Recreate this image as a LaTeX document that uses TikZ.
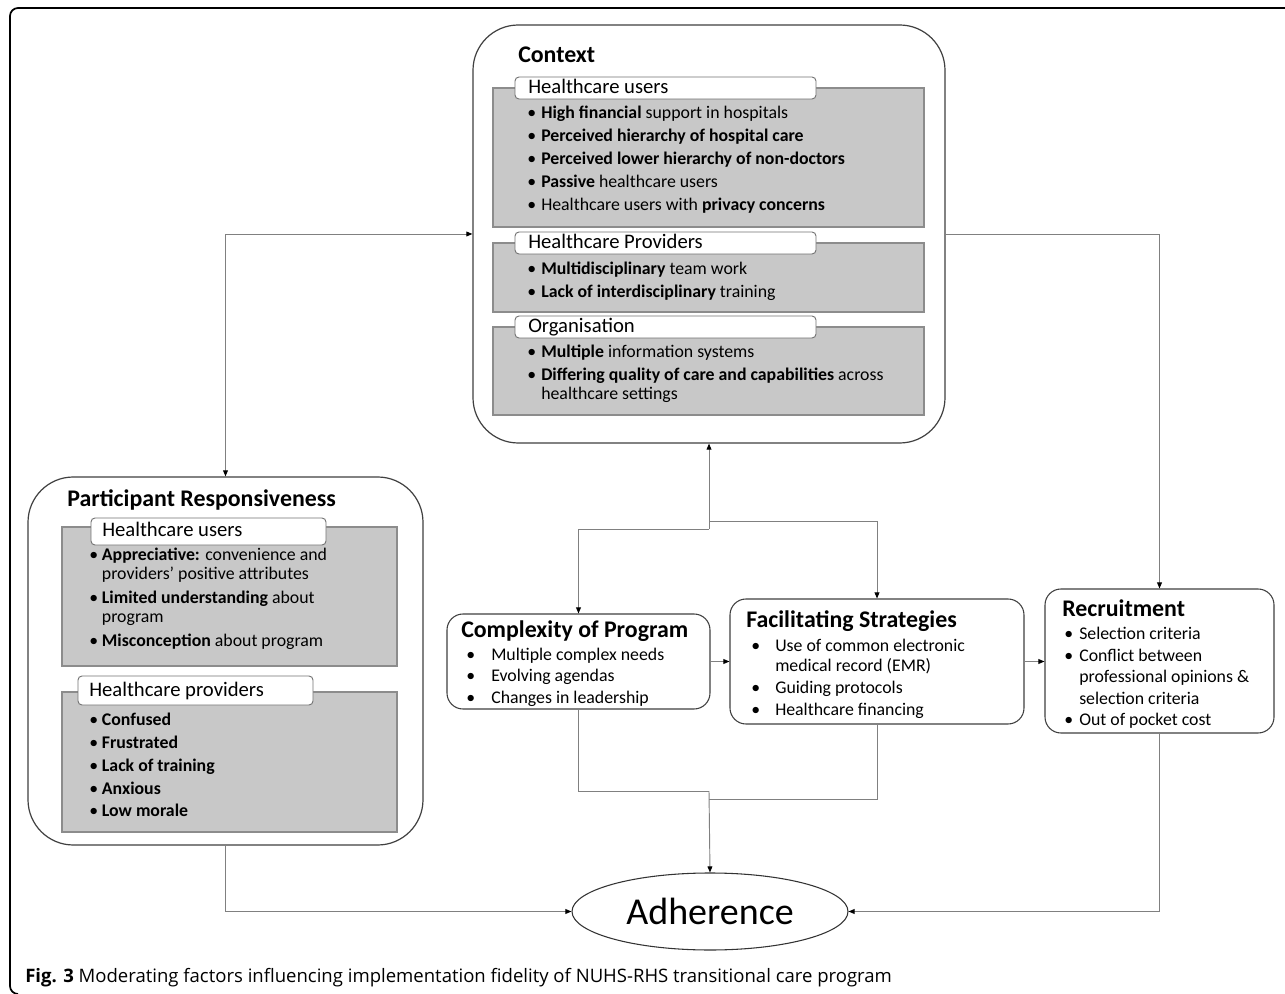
\documentclass[tikz,border=0pt]{standalone}
\usepackage{fontspec}
\setmainfont{Carlito}
\newfontfamily\capfont{Open Sans}
\usetikzlibrary{shapes.geometric,fit,arrows.meta}
\newdimen\px \px=0.75pt
\definecolor{boxgray}{HTML}{C8C8C8}
\newcommand\bitem[2]{\makebox[#1][l]{\textbullet}#2}
\begin{document}
\begin{tikzpicture}[x=0.75pt,y=-0.75pt,
  outer/.style={draw=black!75, line width=0.9pt, rounded corners=34pt, inner sep=0pt},
  smallbox/.style={draw=black!75, line width=0.8pt, rounded corners=12pt, inner sep=0pt},
  graybox/.style={draw=black!45, fill=boxgray, line width=0.8pt, inner sep=0pt},
  lbl/.style={draw=black!55, fill=white, line width=0.7pt, rounded corners=3pt, inner sep=0pt},
  conn/.style={draw=black!50, line width=0.7pt},
  >={Triangle[length=4.5pt,width=3.6pt,color=black]},
  ttl/.style={anchor=base west, inner sep=0pt, font=\fontsize{17.9}{20}\selectfont\bfseries},
  lab/.style={anchor=base west, inner sep=0pt, font=\fontsize{15.5}{18}\selectfont},
  bt/.style={anchor=base west, inner sep=0pt, font=\fontsize{13.35}{16}\selectfont}]
\useasboundingbox (0,0) rectangle (1285,994);
\fill[white] (0,0) rectangle (1285,994);
% frame
\draw[black, line width=1.3pt, rounded corners=8\px] (1290,8) -- (10,8) -- (10,994) -- (16,994);

% ---------- Context ----------
\node[outer, fit={(473,25) (945,443)}] (ctx) {};
\node[ttl] (ctxt) at (518,63) {Context};
\node[graybox, fit={(493,88) (924,227)}] (g1) {};
\node[lbl, fit={(515,77) (816,99)}] (l1) {};
\node[lab] (l1t) at (528,94) {Healthcare users};
\node[bt] (cu1) at (527,119) {\bitem{10.5pt}{\textbf{High financial} support in hospitals}};
\node[bt] (cu2) at (527,142) {\bitem{10.5pt}{\textbf{Perceived hierarchy of hospital care}}};
\node[bt] (cu3) at (527,165) {\bitem{10.5pt}{\textbf{Perceived lower hierarchy of non-doctors}}};
\node[bt] (cu4) at (527,188) {\bitem{10.5pt}{\textbf{Passive} healthcare users}};
\node[bt] (cu5) at (527,211) {\bitem{10.5pt}{Healthcare users with \textbf{privacy concerns}}};

\node[graybox, fit={(493,243) (924,312)}] (g2) {};
\node[lbl, fit={(515,232) (816,254)}] (l2) {};
\node[lab] (l2t) at (528,248.5) {Healthcare Providers};
\node[bt] (cp1) at (527,275) {\bitem{10.5pt}{\textbf{Multidisciplinary} team work}};
\node[bt] (cp2) at (527,297.5) {\bitem{10.5pt}{\textbf{Lack of interdisciplinary} training}};

\node[graybox, fit={(493,327) (924,415)}] (g3) {};
\node[lbl, fit={(515,316) (816,338)}] (l3) {};
\node[lab] (l3t) at (528,332.5) {Organisation};
\node[bt] (co1) at (527,358) {\bitem{10.5pt}{\textbf{Multiple} information systems}};
\node[bt] (co2) at (527,381) {\bitem{10.5pt}{\textbf{Differing quality of care and capabilities} across}};
\node[bt] (co3) at (541,400) {healthcare settings};

% ---------- Participant Responsiveness ----------
\node[outer, fit={(28,477) (423,845)}] (pr) {};
\node[ttl] (prt) at (67,506.5) {Participant Responsiveness};
\node[graybox, fit={(62,527) (397,666)}] (g4) {};
\node[lbl, fit={(91,518) (326,545)}] (l4) {};
\node[lab] (l4t) at (102,537) {Healthcare users};
\node[bt] (pu1) at (89,560.5) {\bitem{9.5pt}{\textbf{Appreciative:} convenience and}};
\node[bt] (pu2) at (101.7,580) {providers' positive attributes};
\node[bt] (pu3) at (89,603) {\bitem{9.5pt}{\textbf{Limited understanding} about}};
\node[bt] (pu4) at (101.7,622.5) {program};
\node[bt] (pu5) at (89,646) {\bitem{9.5pt}{\textbf{Misconception} about program}};

\node[graybox, fit={(62,692) (397,832)}] (g5) {};
\node[lbl, fit={(78,676) (313,705)}] (l5) {};
\node[lab] (l5t) at (89,696) {Healthcare providers};
\node[bt] (pp1) at (89,725) {\bitem{9.5pt}{\textbf{Confused}}};
\node[bt] (pp2) at (89,748) {\bitem{9.5pt}{\textbf{Frustrated}}};
\node[bt] (pp3) at (89,771) {\bitem{9.5pt}{\textbf{Lack of training}}};
\node[bt] (pp4) at (89,794) {\bitem{9.5pt}{\textbf{Anxious}}};
\node[bt] (pp5) at (89,816.5) {\bitem{9.5pt}{\textbf{Low morale}}};

% ---------- Complexity of Program ----------
\node[smallbox, fit={(447,614) (710,709)}] (comp) {};
\node[ttl] (compt) at (461,637) {Complexity of Program};
\node[bt] (cx1) at (466,660) {\bitem{18.75pt}{Multiple complex needs}};
\node[bt] (cx2) at (466,681.5) {\bitem{18.75pt}{Evolving agendas}};
\node[bt] (cx3) at (466,703) {\bitem{18.75pt}{Changes in leadership}};

% ---------- Facilitating Strategies ----------
\node[smallbox, fit={(730,599) (1024,724)}] (fac) {};
\node[ttl] (fact) at (746,627) {Facilitating Strategies};
\node[bt] (fs1) at (751,651) {\bitem{18pt}{Use of common electronic}};
\node[bt] (fs2) at (775,671) {medical record (EMR)};
\node[bt] (fs3) at (751,693) {\bitem{18pt}{Guiding protocols}};
\node[bt] (fs4) at (751,715) {\bitem{18pt}{Healthcare financing}};

% ---------- Recruitment ----------
\node[smallbox, fit={(1045,589) (1274,733)}] (rec) {};
\node[ttl] (rect) at (1062,616) {Recruitment};
\node[bt] (rc1) at (1064,639) {\bitem{11.25pt}{Selection criteria}};
\node[bt] (rc2) at (1064,661) {\bitem{11.25pt}{Conflict between}};
\node[bt] (rc3) at (1079,682.5) {professional opinions \&};
\node[bt] (rc4) at (1079,704) {selection criteria};
\node[bt] (rc5) at (1064,725) {\bitem{11.25pt}{Out of pocket cost}};

% ---------- Adherence ----------
\node[ellipse, draw=black!80, line width=0.8pt, minimum width=276\px, minimum height=77\px, inner sep=0pt,
      font=\fontsize{28.5}{30}\selectfont] (adh) at (710,911.5) {Adherence};

% ---------- connectors ----------
\coordinate (j1) at (709,521);
\coordinate (j2) at (709,529);
\coordinate (j3) at (709,791);
\coordinate (j4) at (709,799);
\draw[conn,<->] (pr.north) |- (ctx.west);
\draw[conn,->] (ctx.east) -| (rec.north);
\draw[conn,->] (j2) -- (ctx.south);
\draw[conn,->] (j2) -| (comp.north);
\draw[conn,->] (j1) -| (fac.north);
\draw[conn,->] (comp.east) -- (comp.east -| fac.west);
\draw[conn,->] (fac.east) -- (fac.east -| rec.west);
\draw[conn] (comp.south) |- (j3);
\draw[conn] (fac.south) |- (j4);
\draw[conn,->] (j3) -- (adh.north);
\draw[conn,->] (pr.south) |- (adh.west);
\draw[conn,->] (rec.south) |- (adh.east);

% ---------- caption ----------
\node[anchor=base west, inner sep=0pt, font=\capfont\fontsize{13.9}{16}\selectfont] (cap) at (25,982)
  {\textbf{Fig. 3} Moderating factors influencing implementation fidelity of NUHS-RHS transitional care program};
\end{tikzpicture}
\end{document}
